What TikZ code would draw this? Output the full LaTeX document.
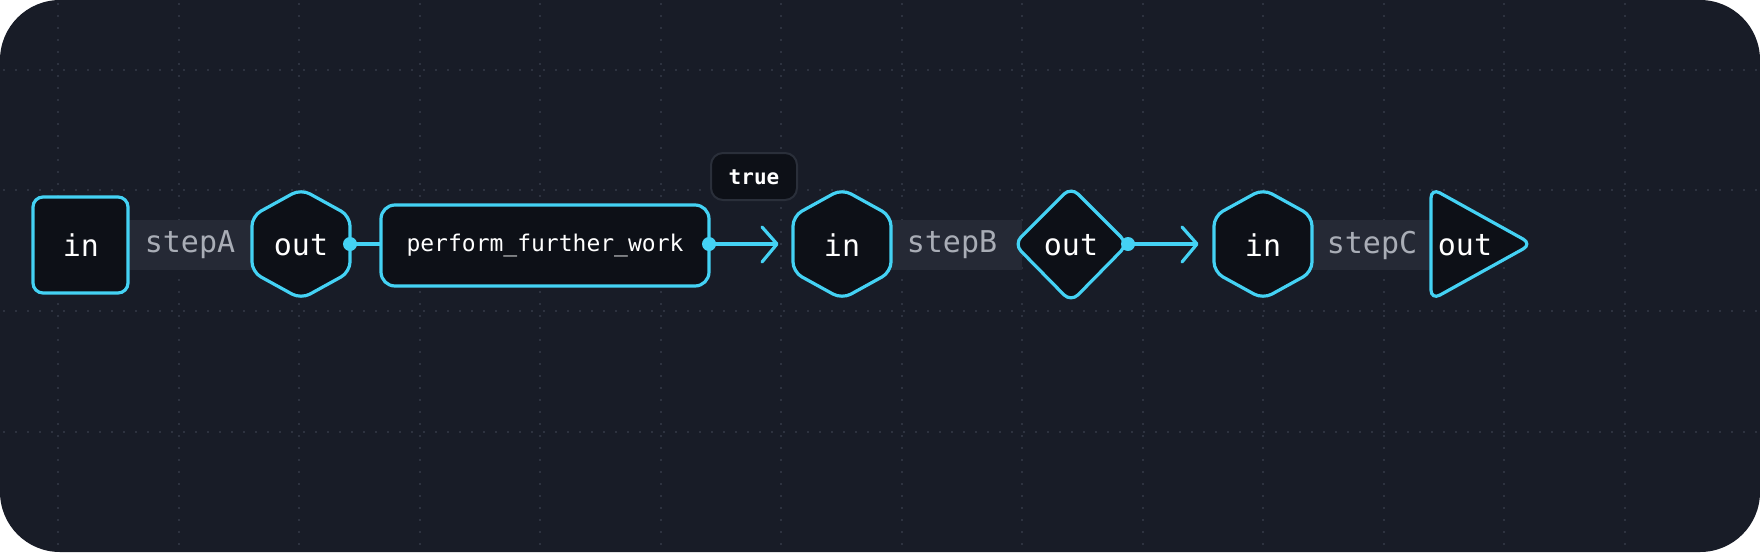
\documentclass[tikz,border=0pt]{standalone}
\usepackage{fontspec}
\setmonofont{DejaVu Sans Mono}
\begin{document}
\begin{tikzpicture}[x=0.5pt,y=-0.5pt,
  shp/.style={draw=cy,fill=nodebg,line width=1.6pt,rounded corners=5pt,line join=round},
  lbl/.style={font=\ttfamily\fontsize{15}{15}\selectfont,text=white,inner sep=0},
  stp/.style={font=\ttfamily\fontsize{15}{15}\selectfont,text=grtxt,inner sep=0},
  band/.style={fill=bandbg},
  con/.style={draw=cy,line width=1.6pt},
  dotc/.style={fill=cy,circle,inner sep=0,minimum size=7pt}]
\definecolor{bg}{HTML}{181C27}
\definecolor{nodebg}{HTML}{0D1017}
\definecolor{cy}{HTML}{44D2F4}
\definecolor{bandbg}{HTML}{252935}
\definecolor{grtxt}{HTML}{A9ADB6}
\definecolor{grid}{HTML}{353B48}
\definecolor{tb}{HTML}{2A2F3A}
\useasboundingbox (0,0) rectangle (1760,552);
\fill[bg,rounded corners=30pt] (0,0) rectangle (1760,552);
% grid
\foreach \yy in {70,190,311,432}{
  \foreach \xx in {4,16,...,1756}{\fill[grid] (\xx,\yy) circle (0.6pt);}}
\foreach \xx in {58,179,299,420,540,661,781,902,1022,1143,1263,1384,1504,1625}{
  \foreach \yy in {4,16,...,548}{\fill[grid] (\xx,\yy) circle (0.6pt);}}
% bands
\fill[band] (128,220) rectangle (254,270);
\fill[band] (889,220) rectangle (1022,270);
\fill[band] (1310,220) rectangle (1433,270);
\node[stp] (sA) at (190,245) {stepA};
\node[stp] (sB) at (952,245) {stepB};
\node[stp] (sC) at (1372,245) {stepC};
% node 1
\draw[shp] (33,197) rectangle (128,293);
\node[lbl] (in1) at (81,245) {in};
% hex out1
\draw[shp] (301,189) -- (350,216) -- (350,272) -- (301,299) -- (252,272) -- (252,216) -- cycle;
\node[lbl] (out1) at (301,245) {out};
% perform
\draw[shp,rounded corners=7pt] (381,205) rectangle (709,286);
\node[font=\ttfamily\fontsize{11.5}{11.5}\selectfont,text=white,inner sep=0] (pfw) at (545,245) {perform\_further\_work};
% hex in2
\draw[shp] (842,189) -- (891,216) -- (891,272) -- (842,299) -- (793,272) -- (793,216) -- cycle;
\node[lbl] (in2) at (842,245) {in};
% diamond
\draw[shp] (1071,187) -- (1128,244) -- (1071,302) -- (1014,244) -- cycle;
\node[lbl] (out2) at (1071,245) {out};
% hex in3
\draw[shp] (1263,189) -- (1312,216) -- (1312,272) -- (1263,299) -- (1214,272) -- (1214,216) -- cycle;
\node[lbl] (in3) at (1263,245) {in};
% triangle
\draw[shp] (1431,188) -- (1532,244) -- (1431,300) -- cycle;
\node[lbl] (out3) at (1465,245) {out};
% true label
\draw[fill=nodebg,draw=tb,line width=1pt,rounded corners=6pt] (711,153) rectangle (797,200);
\node[font=\ttfamily\bfseries\fontsize{10.5}{10.5}\selectfont,text=white,inner sep=0] (tl) at (754,177) {true};
% connectors
\coordinate (p1) at (350,244); \coordinate (p2) at (381,244);
\coordinate (p3) at (709,244); \coordinate (p4) at (777,244);
\coordinate (p5) at (1128,244); \coordinate (p6) at (1197,244);
\draw[con] (p1) -- (p2);
\draw[con] (p3) -- (p4);
\draw[con,line cap=round,line join=round] (762,227) -- (p4) -- (762,262);
\draw[con] (p5) -- (p6);
\draw[con,line cap=round,line join=round] (1182,227) -- (p6) -- (1182,262);
\node[dotc] at (p1) {}; \node[dotc] at (p3) {}; \node[dotc] at (p5) {};
\end{tikzpicture}
\end{document}
